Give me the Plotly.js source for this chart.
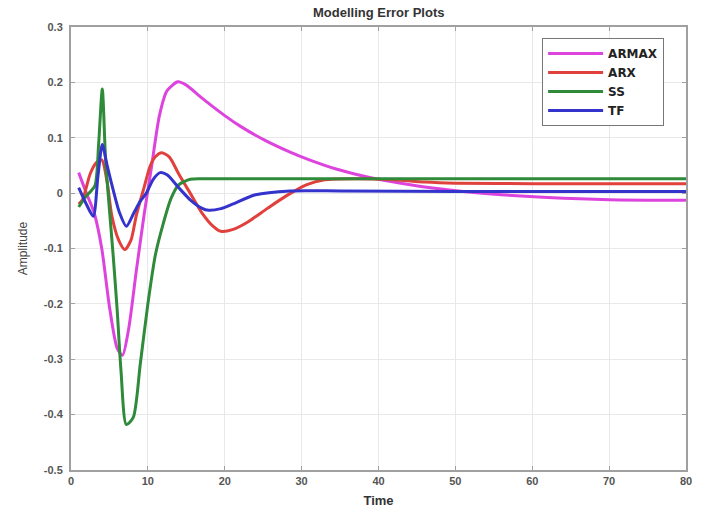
<!DOCTYPE html>
<html>
<head>
<meta charset="utf-8">
<script src="https://cdn.plot.ly/plotly-3.0.1.min.js"></script>
<style>html,body{margin:0;padding:0;background:#fff;}#chart{width:704px;height:512px;}</style>
</head>
<body>
<div id="chart"></div>
<script>
// ARMAX
var armaxTime = [1, 2, 3, 4, 5, 6, 6.7, 7.5, 8.5, 9.5, 10.5, 11.5, 12.5, 13.9, 15, 17, 20, 22, 25, 28.5, 31, 34.6, 38, 42, 46, 51, 56, 62, 70, 80];
var armaxErr  = [0.037, 0.0, -0.035, -0.10, -0.205, -0.28, -0.293, -0.245, -0.14, -0.04, 0.05, 0.14, 0.185, 0.201, 0.195, 0.172, 0.14, 0.121, 0.097, 0.074, 0.06, 0.043, 0.031, 0.02, 0.011, 0.003, -0.003, -0.008, -0.012, -0.013];
// ARX
var arxTime = [1, 1.5, 2.5, 3.3, 4, 4.7, 5.3, 6.2, 7, 7.8, 8.5, 9.5, 10.3, 11, 11.8, 12.8, 14, 15.5, 17, 18.5, 19.5, 21, 23, 25.5, 28, 30.6, 33, 37, 42, 46, 50, 60, 80];
var arxErr  = [-0.02, -0.012, 0.035, 0.055, 0.06, 0.02, -0.04, -0.085, -0.102, -0.085, -0.04, 0.01, 0.049, 0.066, 0.073, 0.065, 0.035, 0.0, -0.035, -0.06, -0.069, -0.066, -0.052, -0.028, -0.005, 0.015, 0.024, 0.026, 0.024, 0.02, 0.018, 0.017, 0.017];
// SS
var ssTime = [1, 2, 3.1, 3.6, 4.07, 4.5, 5, 5.5, 6, 6.5, 7.2, 8.1, 9, 10, 11, 12, 13, 14, 15.5, 17, 20, 30, 80];
var ssErr  = [-0.025, -0.005, 0.013, 0.09, 0.188, 0.06, -0.03, -0.115, -0.21, -0.32, -0.418, -0.405, -0.31, -0.2, -0.11, -0.055, -0.01, 0.015, 0.025, 0.026, 0.026, 0.026, 0.026];
// TF
var tfTime = [1, 2, 2.9, 3.5, 4.07, 4.7, 5.5, 6.3, 7.2, 8.2, 9, 9.8, 10.7, 11.6, 12.5, 14, 15.5, 17, 17.9, 19.5, 21, 24, 28.5, 35, 50, 80];
var tfErr  = [0.01, -0.02, -0.042, 0.03, 0.088, 0.05, 0.005, -0.035, -0.06, -0.035, -0.015, 0.0, 0.025, 0.037, 0.033, 0.01, -0.012, -0.027, -0.031, -0.028, -0.02, -0.003, 0.004, 0.004, 0.003, 0.003];

var yTickVals = [-0.5, -0.4, -0.3, -0.2, -0.1, 0, 0.1, 0.2, 0.3];
var yTickText = ['-0.5', '-0.4', '-0.3', '-0.2', '-0.1', '0', '0.1', '0.2', '0.3'];
var xTickVals = [0, 10, 20, 30, 40, 50, 60, 70, 80];

function tr(name, x, y, color) {
  return {x: x, y: y, name: name, type: 'scatter', mode: 'lines',
          line: {color: color, width: 3, shape: 'spline', smoothing: 0.7}};
}
var data = [
  tr('ARMAX', armaxTime, armaxErr, '#dd44dd'),
  tr('ARX', arxTime, arxErr, '#e0413c'),
  tr('SS', ssTime, ssErr, '#2f8a3a'),
  tr('TF', tfTime, tfErr, '#3434cc')
];
var axisCommon = {
  showline: true, mirror: 'ticks', linecolor: '#a0a0a0', linewidth: 2,
  showgrid: true, gridcolor: '#e8e8e8', gridwidth: 1, zeroline: false,
  ticks: 'inside', ticklen: 4, tickcolor: '#a0a0a0',
  tickfont: {family: 'Liberation Sans, Arial, sans-serif', size: 11, color: '#555', weight: 'bold'}
};
var layout = {
  width: 704, height: 512,
  margin: {l: 71, r: 18, t: 27, b: 42},
  paper_bgcolor: '#fff', plot_bgcolor: '#fff',
  title: {text: 'Modelling Error Plots', x: 0.538, xanchor: 'center', y: 0.976, yanchor: 'middle',
          font: {family: 'Liberation Sans, Arial, sans-serif', size: 13, color: '#333', weight: 'bold'}},
  xaxis: Object.assign({}, axisCommon, {
    range: [0, 80], tickvals: xTickVals,
    title: {text: 'Time', standoff: 10, font: {family: 'Liberation Sans, Arial, sans-serif', size: 13, color: '#333', weight: 'bold'}}
  }),
  yaxis: Object.assign({}, axisCommon, {
    range: [-0.5, 0.3], tickvals: yTickVals, ticktext: yTickText, ticklabelstandoff: 4,
    title: {text: 'Amplitude', standoff: 14, font: {family: 'Liberation Sans, Arial, sans-serif', size: 12, color: '#444'}}
  }),
  showlegend: true,
  legend: {x: 0.766, y: 0.975, xanchor: 'left', yanchor: 'top',
           bgcolor: '#fff', bordercolor: '#777', borderwidth: 1, itemwidth: 55,
           tracegroupgap: 0,
           font: {family: 'DejaVu Sans, sans-serif', size: 12, color: '#222', weight: 'bold'}}
};
Plotly.newPlot('chart', data, layout, {staticPlot: true, displayModeBar: false});
</script>
</body>
</html>
